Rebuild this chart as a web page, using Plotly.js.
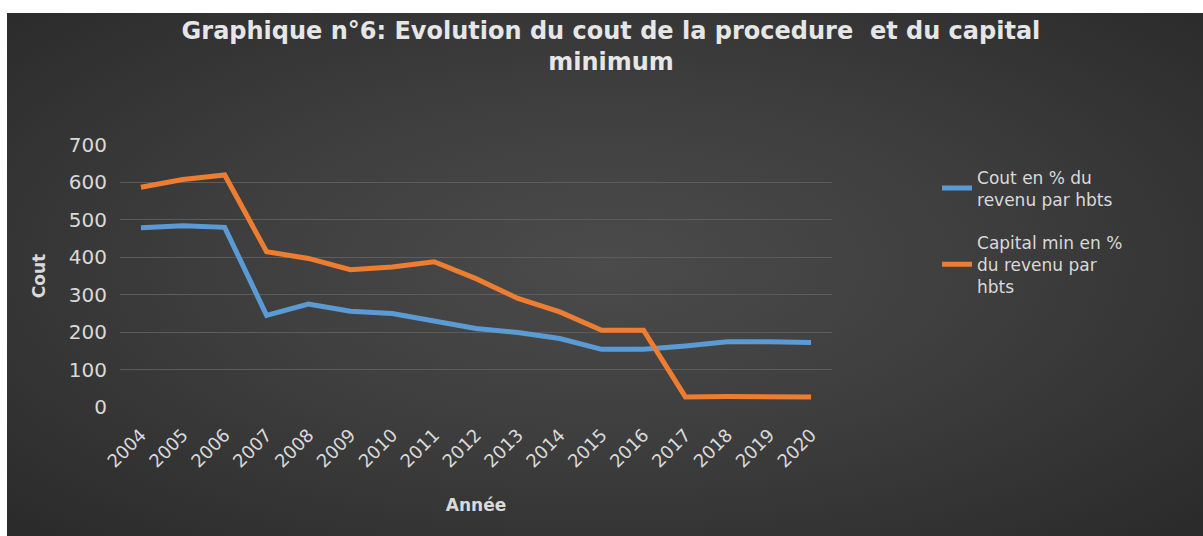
<!DOCTYPE html>
<html>
<head>
<meta charset="utf-8">
<script src="https://cdn.plot.ly/plotly-3.0.1.min.js"></script>
<style>
  html, body { margin: 0; padding: 0; background: #ffffff; width: 1203px; height: 536px; overflow: hidden; }
  #wrap {
    position: absolute; left: 7px; top: 13px; width: 1196px; height: 523px;
    background: radial-gradient(ellipse at 50% 48%, #4b4b4b 0%, #3e3e3e 45%, #2a2a2a 100%);
  }
  #chart { width: 1196px; height: 523px; }
</style>
</head>
<body>
<div id="wrap"><div id="chart"></div></div>
<script>
const years = ['2004','2005','2006','2007','2008','2009','2010','2011','2012','2013','2014','2015','2016','2017','2018','2019','2020'];
const coutPct = [479, 484, 480, 245, 275, 256, 250, 230, 210, 199, 183, 154, 154, 163, 174, 174, 172];
const capitalPct = [587, 608, 620, 415, 397, 367, 374, 388, 343, 290, 254, 205, 205, 27, 28, 28, 27];
const seriesNames = ['Cout en % du<br>revenu par hbts', 'Capital min en %<br>du revenu par<br>hbts'];
const yTicks = [0, 100, 200, 300, 400, 500, 600, 700];

const textColor = '#d9d9d9';
const fam = 'DejaVu Sans, Verdana, sans-serif';

const traces = [
  { x: years, y: coutPct, name: seriesNames[0], legendgroup: 'a', type: 'scatter', mode: 'lines',
    line: { color: '#5B9BD5', width: 5, shape: 'linear' } },
  { x: years, y: capitalPct, name: seriesNames[1], legendgroup: 'b', type: 'scatter', mode: 'lines',
    line: { color: '#ED7D31', width: 5, shape: 'linear' } }
];

const layout = {
  width: 1196, height: 523,
  paper_bgcolor: 'rgba(0,0,0,0)',
  plot_bgcolor: 'rgba(0,0,0,0)',
  margin: { l: 113, r: 371, t: 132, b: 129 },
  font: { family: fam, color: textColor },
  title: {
    text: '<b>Graphique n°6: Evolution du cout de la procedure  et du capital<br>minimum</b>',
    font: { family: fam, size: 24, color: '#e6e6e6' },
    x: 0.505, xanchor: 'center', xref: 'container',
    y: 0.95, yanchor: 'top', yref: 'container'
  },
  xaxis: {
    type: 'category',
    range: [-0.5, 16.5],
    tickangle: -45,
    tickfont: { family: fam, size: 18, color: textColor },
    ticklabelstandoff: 13,
    showgrid: false, zeroline: false, showline: false,
    ticks: '',
    title: { text: '<b>Année</b>', font: { family: fam, size: 17, color: textColor }, standoff: 28 }
  },
  yaxis: {
    range: [0, 700],
    tickvals: yTicks,
    tickfont: { family: fam, size: 20, color: textColor },
    showgrid: true, gridcolor: '#5c5c5c', gridwidth: 1,
    zeroline: false, showline: false, ticks: '',
    ticklabelstandoff: 12,
    title: { text: '<b>Cout</b>', font: { family: fam, size: 17, color: textColor }, standoff: 18 }
  },
  showlegend: true,
  legend: {
    x: 1.1475, xanchor: 'left', xref: 'paper',
    y: 0.945, yanchor: 'top',
    font: { family: fam, size: 17, color: textColor },
    bgcolor: 'rgba(0,0,0,0)',
    itemwidth: 30,
    tracegroupgap: 18
  }
};

Plotly.newPlot('chart', traces, layout, { displayModeBar: false, staticPlot: true });
</script>
</body>
</html>
